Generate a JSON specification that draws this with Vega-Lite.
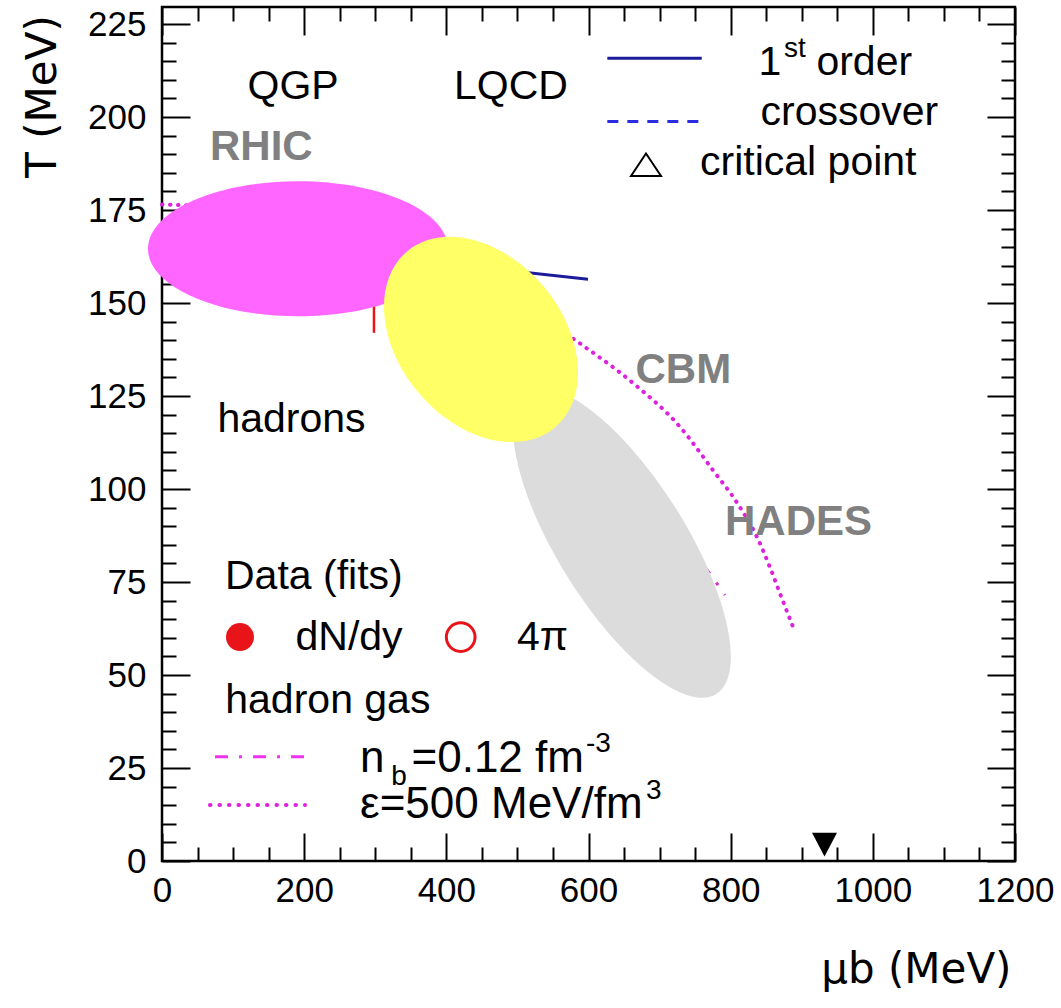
{
  "$schema": "https://vega.github.io/schema/vega-lite/v6.json",
  "width": 853,
  "height": 854,
  "autosize": {"type": "none"},
  "padding": {"left": 162, "top": 7, "right": 46, "bottom": 147},
  "background": "white",
  "config": {"view": {"stroke": "black", "strokeWidth": 2.5}, "font": "Liberation Sans"},
  "resolve": {"axis": {"x": "independent", "y": "independent"}},
  "datasets": {
    "eps": [
      {"mu": 0, "T": 176.5}, {"mu": 100, "T": 175.5}, {"mu": 200, "T": 172.5}, {"mu": 300, "T": 167},
      {"mu": 400, "T": 160}, {"mu": 500, "T": 151}, {"mu": 581, "T": 140.1}, {"mu": 662.6, "T": 128.5},
      {"mu": 728.8, "T": 116.7}, {"mu": 775, "T": 105.1}, {"mu": 809, "T": 96.3}, {"mu": 837, "T": 87.1},
      {"mu": 855, "T": 79.1}, {"mu": 869, "T": 72.1}, {"mu": 890.5, "T": 61.6}
    ],
    "nb": [
      {"mu": 0, "T": 162}, {"mu": 200, "T": 158}, {"mu": 300, "T": 152}, {"mu": 400, "T": 143},
      {"mu": 500, "T": 131}, {"mu": 600, "T": 115}, {"mu": 700, "T": 94}, {"mu": 760, "T": 80}, {"mu": 792, "T": 71.5}
    ],
    "firstorder": [{"mu": 380, "T": 161}, {"mu": 599.3, "T": 156.4}],
    "errbar": [{"mu": 298.2, "T": 142, "T2": 150}],
    "rhic": [{"region": "RHIC", "mu": 191.3, "T": 164.6}],
    "hades": [{"region": "HADES", "mu": 647.1, "T": 85.5}],
    "cbm": [{"region": "CBM", "mu": 448.8, "T": 140.2}],
    "nucleon": [{"mu": 932, "T": 4.4}],
    "labels": [
      {"text": "QGP", "mu": 120.3, "T": 204.8},
      {"text": "LQCD", "mu": 410.8, "T": 204.9},
      {"text": "hadrons", "mu": 78, "T": 115.4},
      {"text": "Data (fits)", "mu": 88.6, "T": 73.1},
      {"text": "dN/dy", "mu": 187.8, "T": 56.7},
      {"text": "4π", "mu": 499.4, "T": 56.7},
      {"text": "hadron gas", "mu": 89, "T": 39.8},
      {"text": "1", "mu": 839.3, "T": 211.4},
      {"text": "order", "mu": 920.6, "T": 211.4},
      {"text": "crossover", "mu": 842, "T": 197.9},
      {"text": "critical point", "mu": 756.9, "T": 184.5}
    ],
    "hg_labels": [
      {"text": "n", "mu": 278.6, "T": 24.0},
      {"text": "=0.12 fm", "mu": 351, "T": 24.0},
      {"text": "ε=500 MeV/fm", "mu": 278.6, "T": 11.6}
    ],
    "small": [
      {"text": "st", "mu": 875, "T": 216.2},
      {"text": "b", "mu": 322.5, "T": 20.4},
      {"text": "-3", "mu": 596.5, "T": 29.3},
      {"text": "3", "mu": 681, "T": 16.6}
    ],
    "regions": [
      {"text": "RHIC", "mu": 67.5, "T": 188.4},
      {"text": "CBM", "mu": 666.1, "T": 128.5},
      {"text": "HADES", "mu": 792, "T": 87.7}
    ],
    "leg_solid": [{"mu": 626.5, "mu2": 759.3, "T": 215.85}],
    "leg_dash": [{"mu": 626.5, "mu2": 759.3, "T": 198.8}],
    "leg_dashdot": [{"mu": 74.6, "mu2": 201.2, "T": 28.05}],
    "leg_dot": [{"mu": 67.5, "mu2": 201.2, "T": 15.06}],
    "leg_crit": [{"mu": 680.9, "T": 187.2}],
    "leg_fill": [{"mu": 109.7, "T": 60.2}],
    "leg_open": [{"mu": 420.2, "T": 60.2}]
  },
  "layer": [
    {
      "data": {"name": "eps"},
      "mark": {"type": "line", "color": "#dd22dd", "strokeWidth": 4, "strokeDash": [0.5, 7.5], "strokeCap": "round", "interpolate": "monotone"},
      "encoding": {
        "x": {"field": "mu", "type": "quantitative", "scale": {"domain": [0, 1200], "nice": false, "zero": false},
          "axis": {"orient": "bottom", "values": [0,50,100,150,200,250,300,350,400,450,500,550,600,650,700,750,800,850,900,950,1000,1050,1100,1150,1200],
            "labelExpr": "datum.value % 200 === 0 ? '' + datum.value : ''",
            "tickSize": {"condition": {"test": "datum.value % 200 === 0", "value": -28}, "value": -14},
            "tickWidth": 2, "tickColor": "black", "domain": false, "grid": false,
            "labelFont": "Liberation Sans", "labelFontSize": 35, "labelColor": "black", "labelPadding": 40,
            "labelBaseline": "top", "labelFlush": false, "labelOverlap": false,
            "title": "μb (MeV)", "titleFont": "DejaVu Sans", "titleFontSize": 42, "titleFontWeight": "normal",
            "titleColor": "black", "titleX": 849, "titleY": 121.7, "titleAlign": "right", "titleBaseline": "alphabetic"}},
        "y": {"field": "T", "type": "quantitative", "scale": {"domain": [0, 229.6], "nice": false, "zero": false},
          "axis": {"orient": "left", "values": [0,5,10,15,20,25,30,35,40,45,50,55,60,65,70,75,80,85,90,95,100,105,110,115,120,125,130,135,140,145,150,155,160,165,170,175,180,185,190,195,200,205,210,215,220,225],
            "labelExpr": "datum.value % 25 === 0 ? '' + datum.value : ''",
            "tickSize": {"condition": {"test": "datum.value % 25 === 0", "value": -28}, "value": -14},
            "tickWidth": 2, "tickColor": "black", "domain": false, "grid": false,
            "labelFont": "Liberation Sans", "labelFontSize": 35, "labelColor": "black", "labelPadding": 44,
            "labelBaseline": "middle", "labelFlush": false, "labelOverlap": false,
            "title": "T (MeV)", "titleFont": "DejaVu Sans", "titleFontSize": 42, "titleFontWeight": "normal",
            "titleColor": "black", "titleAngle": -90, "titleX": -107, "titleY": 89, "titleAlign": "center", "titleBaseline": "alphabetic"}}
      }
    },
    {
      "data": {"name": "nucleon"},
      "mark": {"type": "point", "shape": "M-1,-0.95L1,-0.95L0,0.95Z", "size": 625, "filled": true, "color": "black", "opacity": 1, "strokeWidth": 0},
      "encoding": {
        "x": {"field": "mu", "type": "quantitative",
          "axis": {"orient": "top", "values": [0,50,100,150,200,250,300,350,400,450,500,550,600,650,700,750,800,850,900,950,1000,1050,1100,1150,1200],
            "labels": false, "title": null, "domain": false, "grid": false, "tickWidth": 2, "tickColor": "black",
            "tickSize": {"condition": {"test": "datum.value % 200 === 0", "value": -28}, "value": -14}}},
        "y": {"field": "T", "type": "quantitative",
          "axis": {"orient": "right", "values": [0,5,10,15,20,25,30,35,40,45,50,55,60,65,70,75,80,85,90,95,100,105,110,115,120,125,130,135,140,145,150,155,160,165,170,175,180,185,190,195,200,205,210,215,220,225],
            "labels": false, "title": null, "domain": false, "grid": false, "tickWidth": 2, "tickColor": "black",
            "tickSize": {"condition": {"test": "datum.value % 25 === 0", "value": -28}, "value": -14}}}
      }
    },
    {
      "data": {"name": "nb"},
      "mark": {"type": "line", "color": "#dd22dd", "strokeWidth": 3, "strokeDash": [13, 11, 3, 11], "interpolate": "monotone"},
      "encoding": {"x": {"field": "mu", "type": "quantitative", "axis": null}, "y": {"field": "T", "type": "quantitative", "axis": null}}
    },
    {
      "data": {"name": "firstorder"},
      "mark": {"type": "line", "color": "#1c1c9a", "strokeWidth": 3},
      "encoding": {"x": {"field": "mu", "type": "quantitative", "axis": null}, "y": {"field": "T", "type": "quantitative", "axis": null}}
    },
    {
      "data": {"name": "errbar"},
      "mark": {"type": "rule", "color": "#e8141a", "strokeWidth": 2.5},
      "encoding": {"x": {"field": "mu", "type": "quantitative", "axis": null}, "y": {"field": "T", "type": "quantitative", "axis": null}, "y2": {"field": "T2"}}
    },
    {
      "data": {"name": "rhic"},
      "mark": {"type": "point", "shape": "M1,0C1,0.2485,0.5523,0.45,0,0.45C-0.5523,0.45,-1,0.2485,-1,0C-1,-0.2485,-0.5523,-0.45,0,-0.45C0.5523,-0.45,1,-0.2485,1,0Z", "size": 90000, "angle": 0, "filled": true, "color": "#ff66ff", "opacity": 1, "strokeWidth": 0},
      "encoding": {"x": {"field": "mu", "type": "quantitative", "axis": null}, "y": {"field": "T", "type": "quantitative", "axis": null}}
    },
    {
      "data": {"name": "hades"},
      "mark": {"type": "point", "shape": "M1,0C1,0.1988,0.5523,0.36,0,0.36C-0.5523,0.36,-1,0.1988,-1,0C-1,-0.1988,-0.5523,-0.36,0,-0.36C0.5523,-0.36,1,-0.1988,1,0Z", "size": 126736, "angle": 58, "filled": true, "color": "#dcdcdc", "opacity": 1, "strokeWidth": 0},
      "encoding": {"x": {"field": "mu", "type": "quantitative", "axis": null}, "y": {"field": "T", "type": "quantitative", "axis": null}}
    },
    {
      "data": {"name": "cbm"},
      "mark": {"type": "point", "shape": "M1,0C1,0.3938,0.5523,0.713,0,0.713C-0.5523,0.713,-1,0.3938,-1,0C-1,-0.3938,-0.5523,-0.713,0,-0.713C0.5523,-0.713,1,-0.3938,1,0Z", "size": 52900, "angle": 50, "filled": true, "color": "#ffff66", "opacity": 1, "strokeWidth": 0},
      "encoding": {"x": {"field": "mu", "type": "quantitative", "axis": null}, "y": {"field": "T", "type": "quantitative", "axis": null}}
    },
    {
      "data": {"name": "leg_solid"},
      "mark": {"type": "rule", "color": "#1c1c9a", "strokeWidth": 3},
      "encoding": {"x": {"field": "mu", "type": "quantitative", "axis": null}, "x2": {"field": "mu2"}, "y": {"field": "T", "type": "quantitative", "axis": null}}
    },
    {
      "data": {"name": "leg_dash"},
      "mark": {"type": "rule", "color": "#2b2be0", "strokeWidth": 3, "strokeDash": [11, 9]},
      "encoding": {"x": {"field": "mu", "type": "quantitative", "axis": null}, "x2": {"field": "mu2"}, "y": {"field": "T", "type": "quantitative", "axis": null}}
    },
    {
      "data": {"name": "leg_dashdot"},
      "mark": {"type": "rule", "color": "#ee33ee", "strokeWidth": 3, "strokeDash": [13, 11, 3, 11]},
      "encoding": {"x": {"field": "mu", "type": "quantitative", "axis": null}, "x2": {"field": "mu2"}, "y": {"field": "T", "type": "quantitative", "axis": null}}
    },
    {
      "data": {"name": "leg_dot"},
      "mark": {"type": "rule", "color": "#dd22dd", "strokeWidth": 4, "strokeDash": [0.5, 9], "strokeCap": "round"},
      "encoding": {"x": {"field": "mu", "type": "quantitative", "axis": null}, "x2": {"field": "mu2"}, "y": {"field": "T", "type": "quantitative", "axis": null}}
    },
    {
      "data": {"name": "leg_crit"},
      "mark": {"type": "point", "shape": "M0,-0.75L1,0.75L-1,0.75Z", "size": 900, "filled": false, "color": "black", "strokeWidth": 2, "opacity": 1},
      "encoding": {"x": {"field": "mu", "type": "quantitative", "axis": null}, "y": {"field": "T", "type": "quantitative", "axis": null}}
    },
    {
      "data": {"name": "leg_fill"},
      "mark": {"type": "point", "shape": "circle", "size": 784, "filled": true, "color": "#e8141a", "opacity": 1, "strokeWidth": 0},
      "encoding": {"x": {"field": "mu", "type": "quantitative", "axis": null}, "y": {"field": "T", "type": "quantitative", "axis": null}}
    },
    {
      "data": {"name": "leg_open"},
      "mark": {"type": "point", "shape": "circle", "size": 824, "filled": false, "color": "#e8141a", "opacity": 1, "strokeWidth": 3},
      "encoding": {"x": {"field": "mu", "type": "quantitative", "axis": null}, "y": {"field": "T", "type": "quantitative", "axis": null}}
    },
    {
      "data": {"name": "labels"},
      "mark": {"type": "text", "font": "Liberation Sans", "fontSize": 41, "color": "black", "align": "left", "baseline": "alphabetic"},
      "encoding": {"x": {"field": "mu", "type": "quantitative", "axis": null}, "y": {"field": "T", "type": "quantitative", "axis": null}, "text": {"field": "text"}}
    },
    {
      "data": {"name": "hg_labels"},
      "mark": {"type": "text", "font": "Liberation Sans", "fontSize": 44, "color": "black", "align": "left", "baseline": "alphabetic"},
      "encoding": {"x": {"field": "mu", "type": "quantitative", "axis": null}, "y": {"field": "T", "type": "quantitative", "axis": null}, "text": {"field": "text"}}
    },
    {
      "data": {"name": "small"},
      "mark": {"type": "text", "font": "Liberation Sans", "fontSize": 28, "color": "black", "align": "left", "baseline": "alphabetic"},
      "encoding": {"x": {"field": "mu", "type": "quantitative", "axis": null}, "y": {"field": "T", "type": "quantitative", "axis": null}, "text": {"field": "text"}}
    },
    {
      "data": {"name": "regions"},
      "mark": {"type": "text", "font": "Liberation Sans", "fontSize": 42, "fontWeight": "bold", "color": "#808080", "align": "left", "baseline": "alphabetic"},
      "encoding": {"x": {"field": "mu", "type": "quantitative", "axis": null}, "y": {"field": "T", "type": "quantitative", "axis": null}, "text": {"field": "text"}}
    }
  ]
}
